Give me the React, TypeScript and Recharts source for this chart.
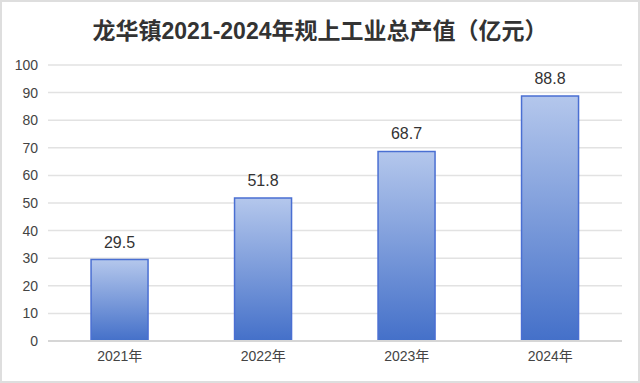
import React from 'react';
import { BarChart, Bar, XAxis, YAxis, CartesianGrid, LabelList } from 'recharts';

const years = ['2021年', '2022年', '2023年', '2024年'];
const outputValues = [29.5, 51.8, 68.7, 88.8];
const yTicks = [0, 10, 20, 30, 40, 50, 60, 70, 80, 90, 100];

const data = years.map((year, i) => ({ year, value: outputValues[i] }));

export default function App() {
  return (
    <div
      style={{
        position: 'fixed',
        top: 0,
        left: 0,
        width: 640,
        height: 383,
        boxSizing: 'border-box',
        border: '2px solid #dedede',
        background: '#fff',
        fontFamily: '"Liberation Sans", "Noto Sans CJK SC", sans-serif',
      }}
    >
      <div
        style={{
          position: 'absolute',
          top: 14,
          left: 0,
          width: 636,
          textAlign: 'center',
          fontSize: 23,
          fontWeight: 'bold',
          color: '#333',
          lineHeight: '30px',
        }}
      >
        龙华镇2021-2024年规上工业总产值（亿元）
      </div>
      <div style={{ position: 'absolute', top: -2, left: -2 }}>
        <BarChart
          width={640}
          height={383}
          data={data}
          margin={{ top: 65, right: 18, bottom: 0, left: 0 }}
          barCategoryGap="30%"
        >
          <defs>
            <linearGradient id="barFill" x1="0" y1="0" x2="0" y2="1">
              <stop offset="0%" stopColor="#b4c7ec" />
              <stop offset="100%" stopColor="#4470c9" />
            </linearGradient>
          </defs>
          <CartesianGrid vertical={false} stroke="#e2e2e2" strokeWidth={1.5} />
          <XAxis
            dataKey="year"
            height={42}
            tickLine={false}
            tickSize={0}
            tickMargin={10}
            axisLine={{ stroke: '#d6d6d6', strokeWidth: 2 }}
            tick={{ fontSize: 14, fill: '#444' }}
          />
          <YAxis
            width={48}
            domain={[0, 100]}
            ticks={yTicks}
            interval={0}
            axisLine={false}
            tickLine={false}
            tickSize={0}
            tickMargin={10}
            tick={{ fontSize: 14, fill: '#444' }}
          />
          <Bar
            dataKey="value"
            fill="url(#barFill)"
            stroke="#4a6fd2"
            strokeWidth={1.5}
            isAnimationActive={false}
          >
            <LabelList dataKey="value" position="top" offset={12} fill="#333" fontSize={16} />
          </Bar>
        </BarChart>
      </div>
    </div>
  );
}
